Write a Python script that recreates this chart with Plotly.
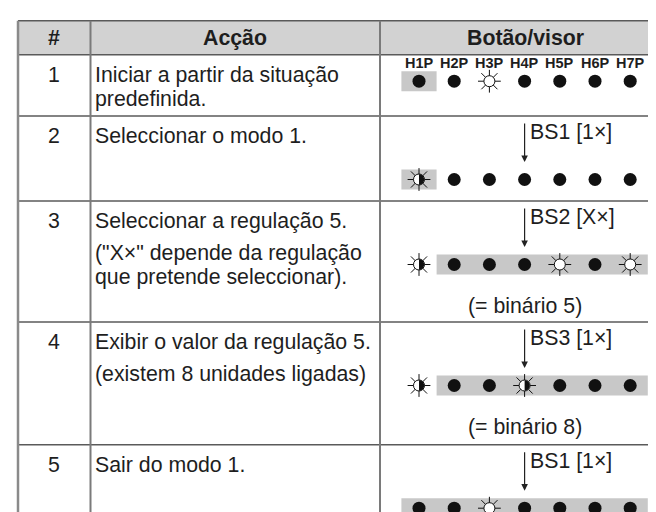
import numpy as np
import plotly.graph_objects as go

# ---------------- data ----------------
headers = ["#", "Acção", "Botão/visor"]
steps = ["1", "2", "3", "4", "5"]
action_main = [
    ["Iniciar a partir da situação", "predefinida."],
    ["Seleccionar o modo 1."],
    ["Seleccionar a regulação 5."],
    ["Exibir o valor da regulação 5."],
    ["Sair do modo 1."],
]
action_note = [
    [],
    [],
    ["(\"X×\" depende da regulação", "que pretende seleccionar)."],
    ["(existem 8 unidades ligadas)"],
    [],
]
buttons = ["", "BS1 [1×]", "BS2 [X×]", "BS3 [1×]", "BS1 [1×]"]
led_labels = ["H1P", "H2P", "H3P", "H4P", "H5P", "H6P", "H7P"]
# 0 = off (filled), 1 = on (sun), 2 = blinking (half sun)
led_states = [
    [0, 0, 1, 0, 0, 0, 0],
    [2, 0, 0, 0, 0, 0, 0],
    [2, 0, 0, 0, 1, 0, 1],
    [2, 0, 0, 2, 0, 0, 0],
    [0, 0, 1, 0, 0, 0, 0],
]
highlight_from = [0, 0, 1, 1, 0]
highlight_to = [0, 0, 6, 6, 6]
results = ["", "", "(= binário 5)", "(= binário 8)", ""]

# ---------------- layout constants ----------------
W, H = 656, 512
x_left, x_right = 10, 664
col_lines = [82.5, 372]
header_top, header_bot = 12.7, 46.7
row_bots = [108, 193, 314, 436.7]
row_tops = [header_bot] + row_bots
led_x0, led_dx = 411, 35.2
FONT = "Liberation Sans, Arial, sans-serif"
FS = 21.3
TXT = "#1e1e1e"

fig = go.Figure()
shapes = []
ann = []

# header fill
shapes.append(dict(type="rect", x0=x_left, x1=x_right, y0=header_top, y1=header_bot,
                   fillcolor="#d2d2d2", line=dict(width=0), layer="below"))
# horizontal lines
for y in [header_top, header_bot] + row_bots:
    shapes.append(dict(type="line", x0=x_left, x1=x_right, y0=y, y1=y,
                       line=dict(color="#5a5a5a", width=1.5)))
# vertical lines
shapes.append(dict(type="line", x0=x_left, x1=x_left, y0=header_top, y1=H,
                   line=dict(color="#8a8a8a", width=2.5)))
for x in col_lines:
    shapes.append(dict(type="line", x0=x, x1=x, y0=header_top, y1=H,
                       line=dict(color="#7a7a7a", width=2)))

# header text
hx = [(x_left + col_lines[0]) / 2, (col_lines[0] + col_lines[1]) / 2, (col_lines[1] + 662) / 2]
for t, x in zip(headers, hx):
    ann.append(dict(x=x, y=(header_top + header_bot) / 2, text="<b>%s</b>" % t, showarrow=False,
                    font=dict(family=FONT, size=FS, color=TXT), xanchor="center", yanchor="middle"))

line_gap = 24
note_gap = 32
for r in range(5):
    top = row_tops[r]
    y0 = top + 20
    ann.append(dict(x=hx[0], y=y0, text=steps[r], showarrow=False,
                    font=dict(family=FONT, size=FS, color=TXT), xanchor="center", yanchor="middle"))
    y = y0
    for i, t in enumerate(action_main[r]):
        ann.append(dict(x=85, y=y, text=t, showarrow=False,
                        font=dict(family=FONT, size=FS, color=TXT), xanchor="left", yanchor="middle"))
        y += line_gap
    y = y0 + note_gap
    for t in action_note[r]:
        ann.append(dict(x=85, y=y, text=t, showarrow=False,
                        font=dict(family=FONT, size=FS, color=TXT), xanchor="left", yanchor="middle"))
        y += line_gap

    # LED row position
    if r == 0:
        led_y = top + 26.5
        for i, lab in enumerate(led_labels):
            ann.append(dict(x=led_x0 + i * led_dx, y=top + 8, text="<b>%s</b>" % lab, showarrow=False,
                            font=dict(family=FONT, size=14.5, color=TXT), xanchor="center", yanchor="middle"))
    else:
        led_y = top + 63.5
        arrow_x = led_x0 + 3 * led_dx
        ann.append(dict(x=arrow_x, y=top + 46, ax=arrow_x, ay=top + 6, xref="x", yref="y",
                        axref="x", ayref="y", text="", showarrow=True, arrowhead=2,
                        arrowsize=1.1, arrowwidth=1.2, arrowcolor="#222"))
        ann.append(dict(x=arrow_x + 3, y=top + 16, text=buttons[r], showarrow=False,
                        font=dict(family=FONT, size=FS, color=TXT), xanchor="left", yanchor="middle"))
    if results[r]:
        ann.append(dict(x=hx[2], y=led_y + 41, text=results[r], showarrow=False,
                        font=dict(family=FONT, size=FS, color=TXT), xanchor="center", yanchor="middle"))

    # highlight box
    hb0 = led_x0 + highlight_from[r] * led_dx - led_dx / 2
    hb1 = led_x0 + highlight_to[r] * led_dx + led_dx / 2
    shapes.append(dict(type="rect", x0=hb0, x1=hb1, y0=led_y - 10, y1=led_y + 10,
                       fillcolor="#c8c8c8", line=dict(width=0), layer="below"))

    xs = np.array([led_x0 + i * led_dx for i in range(7)])
    st = np.array(led_states[r])
    off = st == 0
    sun = st > 0
    fig.add_trace(go.Scatter(x=xs[off], y=[led_y] * int(off.sum()), mode="markers",
                             marker=dict(symbol="circle", size=13, color="#111", line=dict(width=0)),
                             hoverinfo="skip", showlegend=False))
    fig.add_trace(go.Scatter(x=xs[sun], y=[led_y] * int(sun.sum()), mode="markers",
                             marker=dict(symbol="asterisk-open", size=19, color="#111",
                                         line=dict(width=1, color="#111")),
                             hoverinfo="skip", showlegend=False))
    fig.add_trace(go.Scatter(x=xs[sun], y=[led_y] * int(sun.sum()), mode="markers",
                             marker=dict(symbol="circle", size=11, color="white",
                                         line=dict(width=1, color="#111")),
                             hoverinfo="skip", showlegend=False))
    for i in np.where(st == 2)[0]:
        cx = xs[i]
        rr = 5.2
        ts = np.linspace(-np.pi / 2, np.pi / 2, 25)
        pts = ["M %.2f %.2f" % (cx, led_y - rr)]
        for t in ts:
            pts.append("L %.2f %.2f" % (cx + rr * np.cos(t), led_y + rr * np.sin(t)))
        pts.append("Z")
        shapes.append(dict(type="path", path=" ".join(pts), fillcolor="#111",
                           line=dict(width=0), layer="above"))

fig.update_layout(
    width=W, height=H, margin=dict(l=0, r=0, t=0, b=0),
    paper_bgcolor="white", plot_bgcolor="white",
    xaxis=dict(range=[0, W], visible=False, fixedrange=True),
    yaxis=dict(range=[H, 0], visible=False, fixedrange=True),
    shapes=shapes, annotations=ann, showlegend=False,
)
fig.write_html("out.html")
